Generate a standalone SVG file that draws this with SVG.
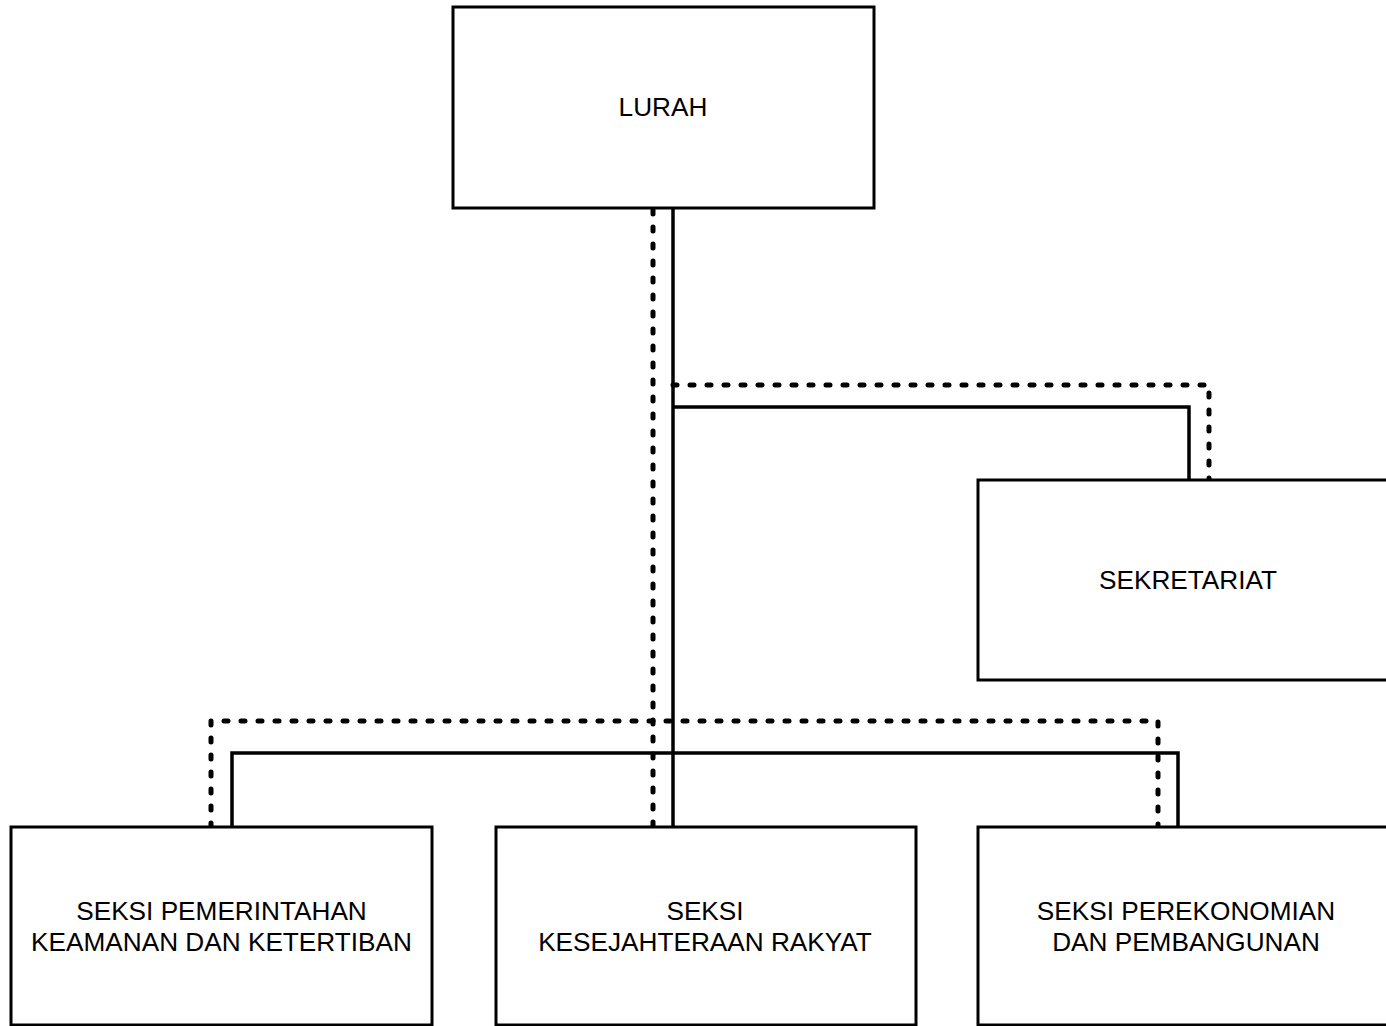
<svg xmlns="http://www.w3.org/2000/svg" width="1386" height="1026" viewBox="0 0 1386 1026">
<style>
.box{fill:#fff;stroke:#000;stroke-width:3}
.lbl{font-family:"Liberation Sans",Arial,sans-serif;font-size:26.2px;fill:#000;text-anchor:middle}
.solid{fill:none;stroke:#000;stroke-width:3.5}
.dot{fill:none;stroke:#000;stroke-width:5;stroke-dasharray:4 13;stroke-linecap:round}
</style>
<rect width="1386" height="1026" fill="#fff"/>
<g id="connectors">
<path class="solid" d="M673 208V827"/>
<path class="solid" d="M673 407H1189V480"/>
<path class="solid" d="M232 827V753H1178V827"/>
<path class="dot" d="M653 210V827"/>
<path class="dot" d="M673 385H1209V480"/>
<path class="dot" d="M211 827V721H1158V827"/>
</g>
<g id="lurah">
<rect class="box" x="453" y="7" width="421" height="201"/>
<text class="lbl" x="663" y="116">LURAH</text>
</g>
<g id="sekretariat">
<rect class="box" x="978" y="480" width="430" height="200"/>
<text class="lbl" x="1188" y="589">SEKRETARIAT</text>
</g>
<g id="seksi-pemerintahan">
<rect class="box" x="11" y="827" width="421" height="198"/>
<text class="lbl" x="221.5" y="920">SEKSI PEMERINTAHAN</text>
<text class="lbl" x="221.5" y="951">KEAMANAN DAN KETERTIBAN</text>
</g>
<g id="seksi-kesejahteraan">
<rect class="box" x="496" y="827" width="420" height="198"/>
<text class="lbl" x="705" y="920">SEKSI</text>
<text class="lbl" x="705" y="951">KESEJAHTERAAN RAKYAT</text>
</g>
<g id="seksi-perekonomian">
<rect class="box" x="978" y="827" width="430" height="198"/>
<text class="lbl" x="1186" y="920">SEKSI PEREKONOMIAN</text>
<text class="lbl" x="1186" y="951">DAN PEMBANGUNAN</text>
</g>
</svg>
